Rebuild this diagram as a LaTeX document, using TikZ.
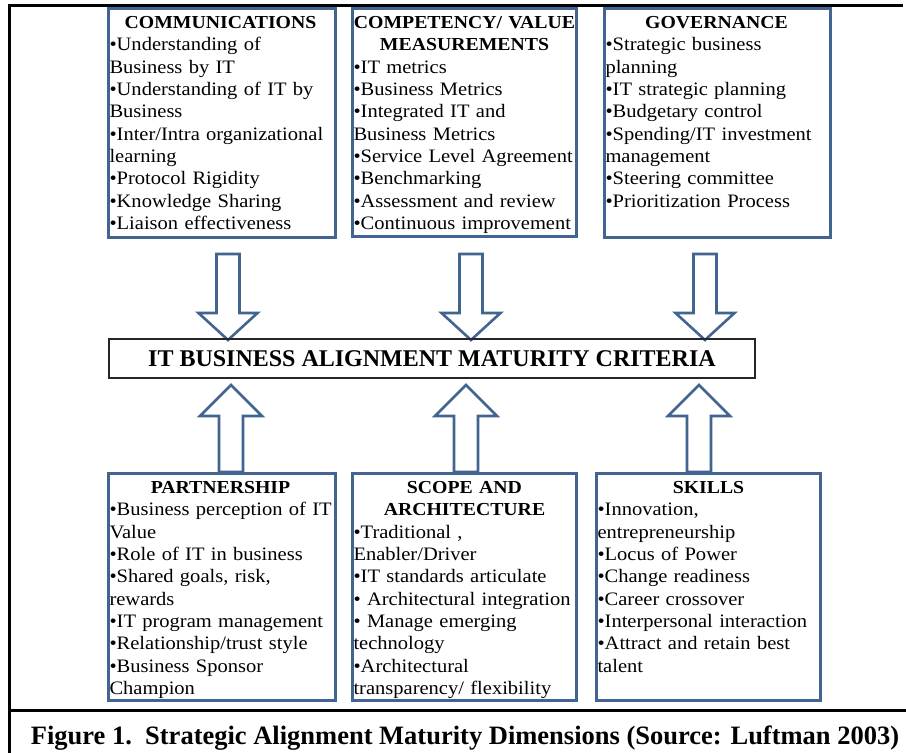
\documentclass[tikz,border=0pt]{standalone}
\usepackage{fontspec}
\setmainfont{Liberation Serif}
\newfontfamily\dimfont{Liberation Serif}[FakeStretch=1.08]
\definecolor{boxblue}{RGB}{65,100,145}
\setlength{\parindent}{0pt}
\newcommand\dimhead[1]{\leavevmode\hbox to222pt{\hss\fontsize{18.3}{22.3}\selectfont\bfseries #1\hss}}

\begin{document}
\begin{tikzpicture}[x=1pt,y=1pt]
    \tikzstyle{every node}=[inner sep=0pt, outer sep=0pt]
    \tikzstyle{dimbox}=[draw=boxblue, line width=3pt, anchor=north west]
    \tikzstyle{dimtext}=[anchor=north west, align=left, text width=260pt, font=\dimfont\fontsize{19}{22.3}\selectfont]
    \tikzstyle{blockarrow}=[draw=boxblue, line width=2.6pt, fill=white, line join=miter]
    \useasboundingbox (0,0) rectangle (906,753);
    % frame and rule above the caption
    \draw[line width=3pt] (9,-5) -- (9,747) -- (903,747);
    \draw[line width=3pt] (9,42) -- (910,42);
    % block arrows into the criteria box
    \foreach \x in {228,471,705}
        \draw[blockarrow] (\x-11.5,499) -- (\x+11.5,499) -- (\x+11.5,440) -- (\x+29.5,440) -- (\x,413) -- (\x-29.5,440) -- (\x-11.5,440) -- cycle;
    \foreach \x in {231,466,699}
        \draw[blockarrow] (\x-12,281) -- (\x+12,281) -- (\x+12,337) -- (\x+31,337) -- (\x,368) -- (\x-31,337) -- (\x-12,337) -- cycle;
    \node[draw=black!85, line width=1.1pt, minimum width=646pt, minimum height=39pt, font=\fontsize{24}{26}\selectfont\bfseries] (crit) at (432,394.5) {IT BUSINESS ALIGNMENT MATURITY CRITERIA};
    % top row
    \node[dimbox, minimum width=227pt, minimum height=229pt] (comm) at (108,744) {};
    \node[dimtext] (commtext) at ([xshift=1.5pt,yshift=-7.5pt]comm.north west) {\dimhead{COMMUNICATIONS}\\ •Understanding of\\ Business by IT\\ •Understanding of IT by\\ Business\\ •Inter/Intra organizational\\ learning\\ •Protocol Rigidity\\ •Knowledge Sharing\\ •Liaison effectiveness};
    \node[dimbox, minimum width=224pt, minimum height=228pt] (comp) at (352,744) {};
    \node[dimtext] (comptext) at ([xshift=1.5pt,yshift=-7.5pt]comp.north west) {\dimhead{COMPETENCY/ VALUE}\\ \dimhead{MEASUREMENTS}\\ •IT metrics\\ •Business Metrics\\ •Integrated IT and\\ Business Metrics\\ •Service Level Agreement\\ •Benchmarking\\ •Assessment and review\\ •Continuous improvement};
    \node[dimbox, minimum width=226pt, minimum height=229pt] (gov) at (604,744) {};
    \node[dimtext] (govtext) at ([xshift=1.5pt,yshift=-7.5pt]gov.north west) {\dimhead{GOVERNANCE}\\ •Strategic business\\ planning\\ •IT strategic planning\\ •Budgetary control\\ •Spending/IT investment\\ management\\ •Steering committee\\ •Prioritization Process};
    % bottom row
    \node[dimbox, minimum width=227pt, minimum height=227pt] (part) at (108,279) {};
    \node[dimtext] (parttext) at ([xshift=1.5pt,yshift=-7.5pt]part.north west) {\dimhead{PARTNERSHIP}\\ •Business perception of IT\\ Value\\ •Role of IT in business\\ •Shared goals, risk,\\ rewards\\ •IT program management\\ •Relationship/trust style\\ •Business Sponsor\\ Champion};
    \node[dimbox, minimum width=224pt, minimum height=227pt] (scope) at (352,279) {};
    \node[dimtext] (scopetext) at ([xshift=1.5pt,yshift=-7.5pt]scope.north west) {\dimhead{SCOPE AND}\\ \dimhead{ARCHITECTURE}\\ •Traditional ,\\ Enabler/Driver\\ •IT standards articulate\\ • Architectural integration\\ • Manage emerging\\ technology\\ •Architectural\\ transparency/ flexibility};
    \node[dimbox, minimum width=224pt, minimum height=227pt] (skills) at (596,279) {};
    \node[dimtext] (skillstext) at ([xshift=1.5pt,yshift=-7.5pt]skills.north west) {\dimhead{SKILLS}\\ •Innovation,\\ entrepreneurship\\ •Locus of Power\\ •Change readiness\\ •Career crossover\\ •Interpersonal interaction\\ •Attract and retain best\\ talent};
    % caption
    \node[font=\fontsize{26.5}{30}\selectfont\bfseries, anchor=base] (caption) at (465,8) {Figure 1.\ \ Strategic Alignment Maturity Dimensions (Source: Luftman 2003)};
\end{tikzpicture}
\end{document}
